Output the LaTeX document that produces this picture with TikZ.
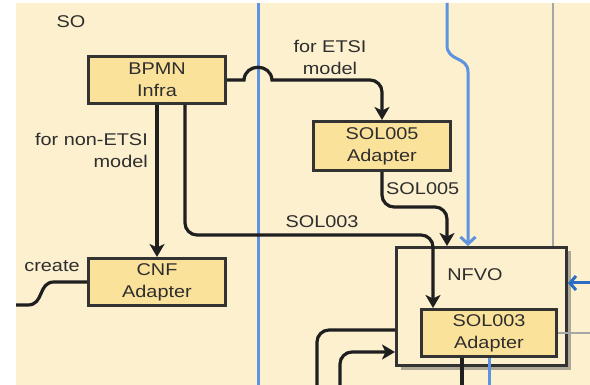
\documentclass[tikz,border=0pt]{standalone}
\usepackage{fontspec}
\setmainfont[FakeStretch=1.17]{Liberation Sans}
\usetikzlibrary{positioning,calc,arrows.meta,shadows}
\definecolor{socream}{HTML}{FCF0CE}
\definecolor{boxfill}{HTML}{FBE29B}
\definecolor{boxline}{HTML}{333333}
\definecolor{textgrey}{HTML}{2E2E2E}
\definecolor{laneblue}{HTML}{5D93E0}
\definecolor{darkblue}{HTML}{2B6CC4}
\definecolor{railgrey}{HTML}{A6A6A6}
\definecolor{shadowgrey}{HTML}{ADA796}
\newcommand\lbfont{\fontsize{17}{22}\selectfont}

\begin{document}
\begin{tikzpicture}[x=1pt,y=-1pt,
  box/.style={draw=boxline,line width=3pt,fill=boxfill,minimum width=137pt,
    minimum height=47pt,align=center,font=\lbfont,text=textgrey,inner sep=0pt},
  lbl/.style={font=\lbfont,text=textgrey,inner sep=0pt},
  line/.style={draw=black!88,line width=3.2pt},
  flow/.style={line,-{Stealth[length=13pt,width=15pt,inset=3.5pt]}},
  blueline/.style={draw=laneblue,line width=3pt},
  greyline/.style={draw=railgrey,line width=2.8pt}]
\useasboundingbox (0,0) rectangle (590,385);
\fill[socream] (16,3) rectangle (590,385);
% free ends at the picture edges
\coordinate (lanetop) at (258,3);
\coordinate (lanebot) at (258,385);
\coordinate (bluetop) at (447,3);
\coordinate (bluebend) at (468,72);
\coordinate (greytop) at (553,3);
\coordinate (rightin) at (590,283);
\coordinate (rightout) at (590,333);
\coordinate (createend) at (16,305);
\coordinate (out1) at (317,385);
\coordinate (in1) at (340,385);
\coordinate (out2) at (462,385);
\coordinate (out3) at (489,385);
\coordinate (s3bend) at (433,235);
\coordinate (s5bend) at (447,207);
% boxes
\node (so) [lbl] at (71,22) {SO};
\node (bpmn) [box] at (157,80) {BPMN\\Infra};
\node (sol5) [box,minimum height=49pt] at (382,146) {SOL005\\Adapter};
\node (cnf) [box] at (157,282) {CNF\\Adapter};
\node (nfvo) [draw=boxline,line width=3pt,fill=socream,minimum width=170pt,
  minimum height=118pt,drop shadow={shadow xshift=4pt,shadow yshift=-4pt,
  fill=shadowgrey,opacity=1}] at (481.5,306.5) {};
\node (nfvolbl) [lbl] at (475,275) {NFVO};
\node (sol3) [box,minimum width=135pt] at (489,333) {SOL003\\Adapter};
% lanes
\draw[blueline] (lanetop) -- (lanebot);
\draw[blueline,-{Straight Barb[length=7pt,width=15pt]}] (bluetop) -- (447,45)
  .. controls (447,62) and (468,56) .. (bluebend) -- (bluebend |- nfvo.north);
\draw[greyline] (greytop) -- (greytop |- nfvo.north);
% connectors
\draw[flow] (bpmn.east) -- (244,80) .. controls (245,63) and (271,63) .. (272,80)
  [rounded corners=12pt] -| (sol5.north);
\node (letsi) [lbl,align=center] at (330,57) {for ETSI\\model};
\draw[flow] (bpmn.south) -- (cnf.north);
\node (lnon) [lbl,align=right,anchor=east] at (148,150) {for non-ETSI\\model};
\draw[flow,rounded corners=12pt] ([xshift=28pt]bpmn.south) |- (s3bend)
  -- ([xshift=-56pt]sol3.north);
\node (l3) [lbl] at (322,222) {SOL003};
\draw[flow,rounded corners=12pt] (sol5.south) |- (s5bend) -- (s5bend |- nfvo.north);
\node (l5) [lbl,anchor=west] at (386,189) {SOL005};
\draw[line] (cnf.west) -- (54,282) .. controls (38,282) and (44,305) .. (28,305)
  -- (createend);
\node (lcreate) [lbl] at (52,266) {create};
\draw[draw=darkblue,line width=3pt,-{Straight Barb[length=6pt,width=14pt]}]
  (rightin) -- (rightin -| nfvo.east);
\draw[greyline] (sol3.east) -- (rightout);
\draw[line,rounded corners=12pt] ($(nfvo.west)+(0,23.5)$) -| (out1);
\draw[flow,rounded corners=12pt] (in1) |- ($(nfvo.west)+(0,45.5)$);
\draw[line] ([xshift=-27pt]sol3.south) -- (out2);
\draw[blueline] (sol3.south) -- (out3);
\end{tikzpicture}
\end{document}
